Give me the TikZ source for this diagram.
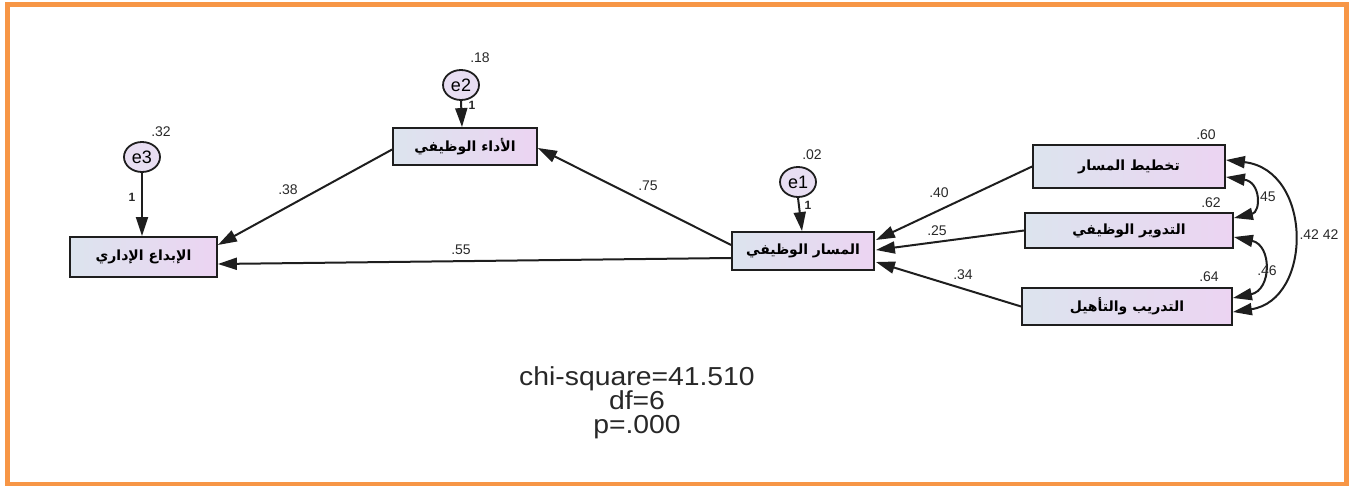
\documentclass[tikz,border=0pt]{standalone}
\usepackage{fontspec}
\setmainfont{Liberation Sans}
\newfontfamily\arabicfont[Script=Arabic]{DejaVu Sans}
\TeXXeTstate=1
\usetikzlibrary{arrows.meta,shapes.geometric,calc}
\definecolor{framec}{RGB}{247,150,70}
\definecolor{linec}{RGB}{30,30,30}
\definecolor{boxleft}{RGB}{220,228,238}
\definecolor{boxright}{RGB}{236,212,242}
\definecolor{errfill}{RGB}{232,222,242}
\definecolor{labc}{RGB}{40,40,40}
\begin{document}
\begin{tikzpicture}[x=1pt,y=-1pt,
  var/.style={draw=linec,line width=1.8pt,left color=boxleft,right color=boxright,
    inner sep=0pt,font=\arabicfont\bfseries\fontsize{14}{16}\selectfont},
  err/.style={ellipse,draw=linec,line width=1.8pt,fill=errfill,inner sep=0pt,
    minimum width=36pt,minimum height=30pt,font=\fontsize{18}{20}\selectfont},
  tip/.tip={Triangle[length=19pt,width=12pt]},
  conn/.style={draw=linec,line width=2pt,-tip},
  cov/.style={draw=linec,line width=2pt,tip-tip},
  lab/.style={text=labc,font=\fontsize{14}{16}\selectfont,inner sep=0pt},
  one/.style={text=labc,font=\bfseries\fontsize{12}{14}\selectfont,inner sep=0pt},
  fitline/.style={text=labc,font=\fontsize{26}{28}\selectfont,inner sep=0pt,anchor=base}]

\useasboundingbox (0,0) rectangle (1351,486);
\draw[framec,line width=5pt] (7,5) rectangle (1346,484);

% observed variables
\node[var,minimum width=192pt,minimum height=43pt] (plan)  at (1129,166.5) {\beginR تخطيط المسار\endR};
\node[var,minimum width=208pt,minimum height=35pt] (rot)   at (1129,230.5) {\beginR التدوير الوظيفي\endR};
\node[var,minimum width=210pt,minimum height=37pt] (train) at (1127,306.5) {\beginR التدريب والتأهيل\endR};
\node[var,minimum width=142pt,minimum height=38pt] (path)  at (803,251)    {\beginR المسار الوظيفي\endR};
\node[var,minimum width=144pt,minimum height=37pt] (perf)  at (465,146.5)  {\beginR الأداء الوظيفي\endR};
\node[var,minimum width=147pt,minimum height=40pt] (innov) at (143.5,257)  {\beginR الإبداع الإداري\endR};

% error terms
\node[err] (e1) at (798,182) {e1};
\node[err] (e2) at (461,85)  {e2};
\node[err] (e3) at (142,157) {e3};

% regression paths
\draw[conn] (plan.west)  -- ($(path.east)+(1,-11)$);
\draw[conn] (rot.west)   -- ($(path.east)+(1,-1)$);
\draw[conn] (train.west) -- ($(path.east)+(1,11)$);
\draw[conn] ($(path.west)+(0,-6)$) -- ($(perf.east)+(0,1.5)$);
\draw[conn] ($(path.west)+(0,7)$)  -- ($(innov.east)+(0,7)$);
\draw[conn] ($(perf.west)+(0,3)$)  -- ($(innov.east)+(0,-12)$);
\draw[conn] (e2.south) -- ($(perf.north)+(-3,0)$);
\draw[conn] (e3.south) -- ($(innov.north)+(-1.5,0)$);
\draw[conn] (e1.south) -- ($(path.north)+(-1,0)$);

% covariances
\draw[cov] ($(plan.east)+(0,-6.5)$) .. controls (1313,170) and (1313,300) .. ($(train.east)+(0,5.5)$);
\draw[cov] ($(plan.east)+(0,10.5)$) .. controls (1261,182) and (1261,212) .. ($(rot.east)+(0,-12.5)$);
\draw[cov] ($(rot.east)+(0,6.5)$)   .. controls (1272,245) and (1272,290) .. ($(train.east)+(0,-8.5)$);

% estimates
\node[lab] (l60) at (1206,135) {.60};
\node[lab] (l62) at (1211,203) {.62};
\node[lab] (l64) at (1209,277) {.64};
\node[lab] (l45) at (1266,197) {.45};
\node[lab] (l46) at (1267,271) {.46};
\node[lab] (l42) at (1319,235) {.42 42};
\node[lab] (l40) at (939,193) {.40};
\node[lab] (l25) at (937,231) {.25};
\node[lab] (l34) at (963,275) {.34};
\node[lab] (l75) at (648,186) {.75};
\node[lab] (l38) at (288,190) {.38};
\node[lab] (l55) at (461,250) {.55};
\node[lab] (l18) at (480,58)  {.18};
\node[lab] (l32) at (161,132) {.32};
\node[lab] (l02) at (812,155) {.02};
\node[one] (o2) at (472,105) {1};
\node[one] (o3) at (132,197) {1};
\node[one] (o1) at (808,205) {1};

% fit statistics
\node[fitline] (chi) at (637,385) {\scalebox{1.09}[1]{chi-square=41.510}};
\node[fitline] (df)  at (637,409) {\scalebox{1.09}[1]{df=6}};
\node[fitline] (pv)  at (637,433) {\scalebox{1.09}[1]{p=.000}};
\end{tikzpicture}
\end{document}
